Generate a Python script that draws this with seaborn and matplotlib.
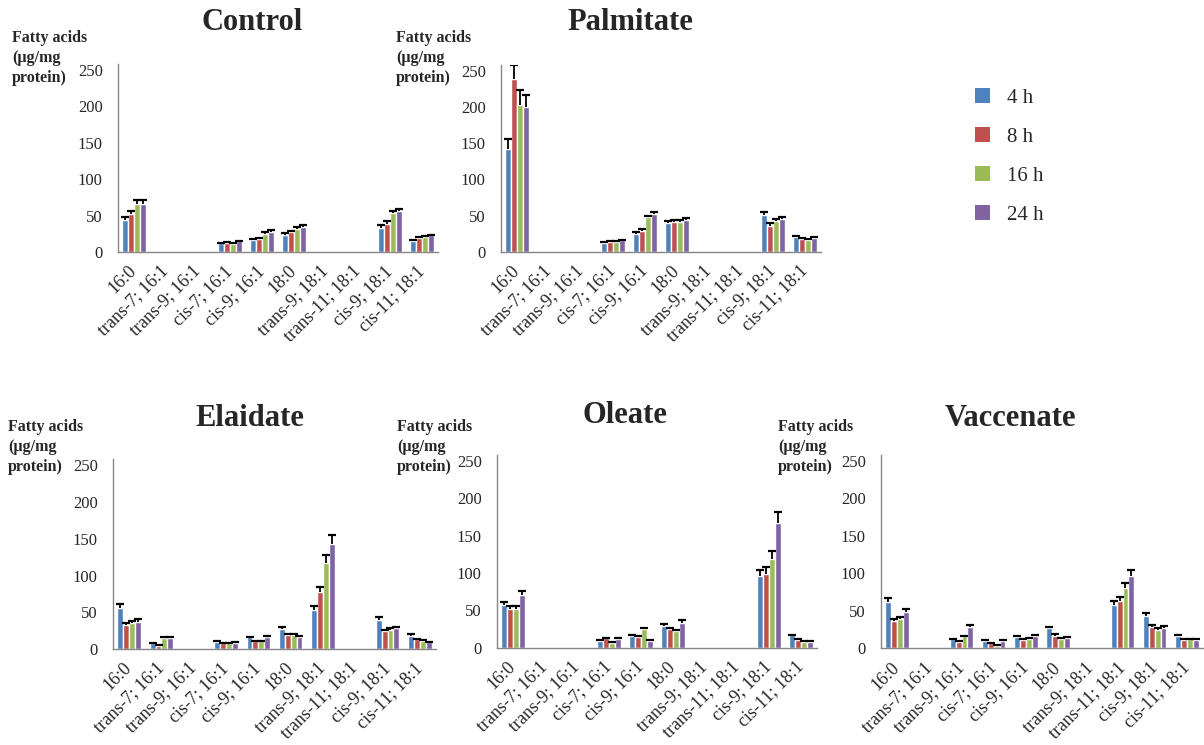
import numpy as np
import pandas as pd
import matplotlib
matplotlib.use("Agg")
import matplotlib.pyplot as plt
from matplotlib.container import BarContainer
from matplotlib.patches import Patch
import seaborn as sns

nan = np.nan

categories = ["16:0", "trans-7; 16:1", "trans-9; 16:1", "cis-7; 16:1", "cis-9; 16:1",
              "18:0", "trans-9; 18:1", "trans-11; 18:1", "cis-9; 18:1", "cis-11; 18:1"]
hours = ["4 h", "8 h", "16 h", "24 h"]
colors = ["#4F81BD", "#C0504D", "#9BBB59", "#8064A2"]
ylabel_lines = ["Fatty acids", "(\u00b5g/mg", "protein)"]

# one row per time point, one column per fatty acid
control_mean = [[44.5, nan, nan, 12.0, 16.0, 24.0, nan, nan, 33.0, 15.0],
                [52.5, nan, nan, 12.5, 18.0, 27.0, nan, nan, 39.0, 19.0],
                [65.5, nan, nan, 11.0, 25.0, 32.0, nan, nan, 53.0, 21.0],
                [65.5, nan, nan, 14.5, 28.0, 34.0, nan, nan, 56.5, 23.0]]
control_err = [[4, 0, 0, 1, 1.5, 1.5, 0, 0, 3.5, 1.5],
               [4, 0, 0, 1, 1.5, 2, 0, 0, 3.5, 1.5],
               [6, 0, 0, 1, 2, 2.5, 0, 0, 3.5, 1.5],
               [6, 0, 0, 1, 2, 2.5, 0, 0, 2, 1]]

palmitate_mean = [[142, nan, nan, 12.5, 25.0, 39.0, nan, nan, 51.0, 20.0],
                  [238, nan, nan, 13.5, 29.0, 41.5, nan, nan, 36.0, 17.0],
                  [203, nan, nan, 13.5, 47.5, 41.5, nan, nan, 42.0, 16.0],
                  [200, nan, nan, 15.5, 52.0, 43.5, nan, nan, 45.0, 19.0]]
palmitate_err = [[13, 0, 0, 1, 2, 3, 0, 0, 4.5, 1.5],
                 [20, 0, 0, 1, 2.5, 2.5, 0, 0, 3, 1.5],
                 [21, 0, 0, 1, 2, 2.5, 0, 0, 3, 1],
                 [17, 0, 0, 1, 3.5, 3, 0, 0, 3, 1.5]]

elaidate_mean = [[56.0, 7.5, nan, 10.0, 16.0, 27.5, 53.5, nan, 39.5, 18.0],
                 [33.0, 4.0, nan, 7.5, 10.5, 19.0, 77.5, nan, 24.0, 13.0],
                 [35.0, 15.5, nan, 7.5, 10.5, 19.5, 117.5, nan, 26.0, 11.0],
                 [37.0, 15.5, nan, 8.5, 17.0, 16.5, 143.0, nan, 28.0, 9.0]]
elaidate_err = [[5, 1, 0, 1, 1, 2.5, 4.5, 0, 3.5, 2],
                [3, 1, 0, 1, 1, 1, 6.5, 0, 2, 1],
                [2.5, 1, 0, 1, 1, 1, 10, 0, 2.5, 1],
                [4, 1, 0, 1, 1, 1, 12, 0, 2, 1]]

oleate_mean = [[57.0, nan, nan, 9.5, 15.5, 29.5, nan, nan, 95.5, 16.5],
               [51.5, nan, nan, 12.5, 14.5, 25.0, nan, nan, 98.5, 10.0],
               [51.5, nan, nan, 6.5, 24.5, 23.0, nan, nan, 119.0, 7.5],
               [70.0, nan, nan, 12.0, 9.0, 33.5, nan, nan, 167.5, 8.0]]
oleate_err = [[4.5, 0, 0, 1, 1, 2.5, 0, 0, 9, 1],
              [5, 0, 0, 1, 1, 1.5, 0, 0, 9, 1],
              [5, 0, 0, 1, 2, 1, 0, 0, 10.5, 1],
              [6, 0, 0, 1, 1, 3, 0, 0, 14, 1]]

vaccenate_mean = [[62.0, nan, 12.0, 10.0, 15.5, 27.0, nan, 58.0, 43.0, 16.0],
                  [37.0, nan, 9.0, 6.5, 11.5, 17.0, nan, 63.0, 29.0, 11.0],
                  [39.5, nan, 16.0, 3.5, 13.0, 13.0, nan, 80.0, 25.0, 12.0],
                  [49.0, nan, 28.0, 9.5, 17.0, 14.0, nan, 96.0, 27.0, 11.0]]
vaccenate_err = [[5.5, 0, 1, 1, 1, 2, 0, 5, 4, 1.5],
                 [2.5, 0, 1, 1, 1, 1.5, 0, 5.5, 2, 1],
                 [2.5, 0, 1, 1, 1, 1, 0, 7, 2, 0.5],
                 [4, 0, 2.5, 1, 1, 1, 0, 8, 2.5, 1]]

W, H = 1204, 745
YMAX = 258


def place(left, base, top250, width):
    top = base - (base - top250) * YMAX / 250
    return [left / W, 1 - base / H, width / W, (base - top) / H]


def long_frame(means):
    rows = []
    for h, series in zip(hours, means):
        for cat, v in zip(categories, series):
            if not np.isnan(v):
                rows.append({"acid": cat, "time": h, "value": v})
    return pd.DataFrame(rows)


def draw_panel(ax, means, errs):
    df = long_frame(means)
    sns.barplot(data=df, x="acid", y="value", hue="time", order=categories,
                hue_order=hours, palette=colors, saturation=1, width=0.73,
                errorbar=None, ax=ax, legend=False)
    # plus-only error bars like the original spreadsheet chart
    bars = [c for c in ax.containers if isinstance(c, BarContainer)]
    for i, cont in enumerate(bars):
        xs, ys, es = [], [], []
        for p in cont.patches:
            xc = p.get_x() + p.get_width() / 2
            k = int(round(xc))
            xs.append(xc)
            ys.append(p.get_height())
            es.append(errs[i][k])
        _, caps, _ = ax.errorbar(xs, ys, yerr=[np.zeros(len(es)), es], fmt="none",
                                 ecolor="black", elinewidth=1.3, capsize=2.8,
                                 capthick=1.6)
        caps[0].set_visible(False)
    ax.set_xlim(-0.5, len(categories) - 0.5)
    ax.set_ylim(0, YMAX)
    ax.set_yticks([0, 50, 100, 150, 200, 250])
    ax.set_xlabel("")
    ax.set_ylabel("")
    ax.set_xticks(range(len(categories)))
    ax.set_xticklabels(categories, rotation=45, ha="right", va="center",
                       rotation_mode="anchor")
    ax.set_xticks(np.arange(-0.5, len(categories), 1), minor=True)
    ax.tick_params(axis="x", which="major", length=0, pad=12, labelsize=13)
    ax.tick_params(axis="x", which="minor", length=5, color="#868686", width=1)
    ax.tick_params(axis="y", length=4, color="#868686", width=1, labelsize=12, pad=7)
    for s in ["top", "right"]:
        ax.spines[s].set_visible(False)
    for s in ["left", "bottom"]:
        ax.spines[s].set_color("#868686")
        ax.spines[s].set_linewidth(1)


sns.set_style("white")
plt.rcParams["font.family"] = ["Liberation Serif", "DejaVu Serif"]

fig = plt.figure(figsize=(12.04, 7.45), dpi=100)

# title centre, y-label anchor (left x, centre y of first line) in pixels
panels = [
    ("Control", control_mean, control_err, (118, 252, 70, 320), (252, 22), (12, 38)),
    ("Palmitate", palmitate_mean, palmitate_err, (501, 251.7, 70.7, 320), (630, 22), (396, 38)),
    ("Elaidate", elaidate_mean, elaidate_err, (113, 649, 465.3, 323), (250, 418), (8, 427)),
    ("Oleate", oleate_mean, oleate_err, (497, 647.7, 461, 320), (625, 416), (397, 427)),
    ("Vaccenate", vaccenate_mean, vaccenate_err, (881, 648.3, 460.7, 322), (1010, 418), (778, 427)),
]

for title, means, errs, box, tpos, lpos in panels:
    ax = fig.add_axes(place(*box))
    draw_panel(ax, means, errs)
    fig.text(tpos[0] / W, 1 - tpos[1] / H, title, ha="center", va="center",
             fontsize=22, fontweight="bold")
    for j, line in enumerate(ylabel_lines):
        fig.text(lpos[0] / W, 1 - (lpos[1] + 20 * j) / H, line,
                 ha="left", va="center", fontsize=11.5, fontweight="bold")

handles = [Patch(facecolor=c, edgecolor="none") for c in colors]
fig.legend(handles, hours, loc="upper left", bbox_to_anchor=(965 / W, 1 - 78 / H),
           frameon=False, fontsize=15, handlelength=0.7, handleheight=0.7,
           handletextpad=0.8, labelspacing=0.93, borderpad=0)

fig.savefig("out.png", dpi=100)
